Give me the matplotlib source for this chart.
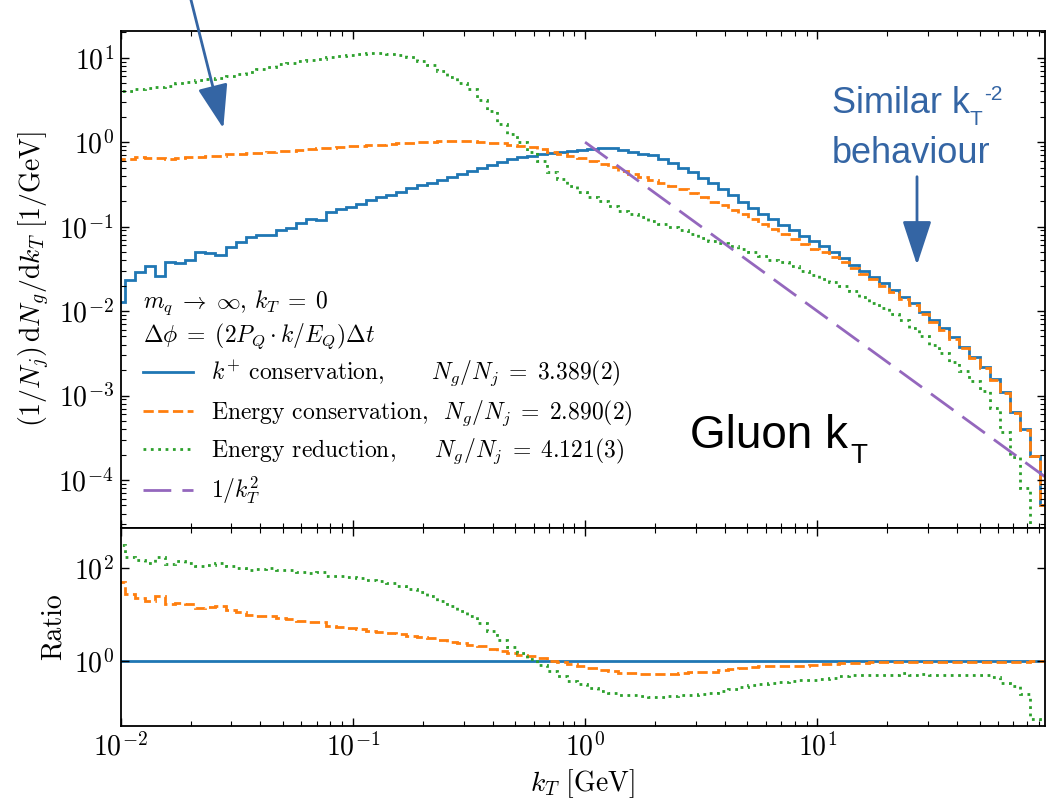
import numpy as np
import matplotlib
matplotlib.use('Agg')
import matplotlib.pyplot as plt
from matplotlib.ticker import LogLocator, NullLocator, FixedLocator
from matplotlib.lines import Line2D
from matplotlib.patches import FancyArrowPatch

plt.rcParams['font.family'] = 'cmr10'
plt.rcParams['mathtext.fontset'] = 'cm'
plt.rcParams['axes.formatter.use_mathtext'] = True
plt.rcParams['axes.linewidth'] = 1.3

# ---------------- data (log10 of bin contents) ----------
log_edge_start = -2.0248      # log10 of first bin edge [GeV]
log_bin_width = 0.0433        # bin width in decades
n_bins = 93

kplus_log10 = [
    -1.887, -1.630, -1.532, -1.461, -1.583, -1.425, -1.433, -1.394, -1.302, -1.314,
    -1.334, -1.243, -1.184, -1.125, -1.094, -1.094, -1.038, -1.011, -0.952, -0.912,
    -0.920, -0.825, -0.793, -0.762, -0.727, -0.683, -0.651, -0.624, -0.585, -0.538,
    -0.509, -0.478, -0.446, -0.407, -0.375, -0.336, -0.308, -0.269, -0.230, -0.201,
    -0.180, -0.160, -0.140, -0.125, -0.112, -0.100, -0.088, -0.078, -0.065, -0.075,
    -0.091, -0.111, -0.135, -0.158, -0.205, -0.250, -0.305, -0.358, -0.425, -0.482,
    -0.555, -0.620, -0.705, -0.781, -0.850, -0.915, -0.979, -1.042, -1.108, -1.167,
    -1.230, -1.300, -1.373, -1.453, -1.526, -1.591, -1.669, -1.749, -1.838, -1.910,
    -2.012, -2.104, -2.202, -2.305, -2.420, -2.538, -2.657, -2.806, -2.953, -3.190,
    -3.398, -3.714, -4.294]

econs_log10 = [
    -0.200, -0.195, -0.180, -0.185, -0.190, -0.195, -0.190, -0.175, -0.170, -0.165,
    -0.160, -0.140, -0.135, -0.130, -0.125, -0.120, -0.110, -0.105, -0.095, -0.085,
    -0.075, -0.065, -0.058, -0.050, -0.045, -0.035, -0.028, -0.020, -0.010, -0.005,
    0.000, 0.005, 0.008, 0.010, 0.010, 0.008, 0.005, -0.005, -0.015, -0.030,
    -0.045, -0.060, -0.085, -0.115, -0.140, -0.165, -0.190, -0.220, -0.255, -0.300,
    -0.340, -0.378, -0.412, -0.445, -0.478, -0.520, -0.560, -0.600, -0.655, -0.710,
    -0.750, -0.800, -0.845, -0.905, -0.965, -1.025, -1.085, -1.145, -1.205, -1.262,
    -1.305, -1.365, -1.420, -1.490, -1.560, -1.620, -1.700, -1.780, -1.860, -1.930,
    -2.030, -2.125, -2.225, -2.330, -2.440, -2.560, -2.680, -2.820, -2.975, -3.210,
    -3.410, -3.720, -4.300]

ered_log10 = [
    0.600, 0.610, 0.625, 0.640, 0.650, 0.665, 0.700, 0.715, 0.730, 0.745,
    0.765, 0.785, 0.810, 0.830, 0.870, 0.895, 0.920, 0.935, 0.960, 0.975,
    0.990, 1.005, 1.025, 1.035, 1.045, 1.050, 1.054, 1.045, 1.030, 1.005,
    0.960, 0.910, 0.840, 0.770, 0.700, 0.630, 0.500, 0.370, 0.220, 0.100,
    0.000, -0.120, -0.220, -0.350, -0.440, -0.520, -0.590, -0.650, -0.700, -0.755,
    -0.810, -0.845, -0.890, -0.930, -0.970, -1.010, -1.035, -1.090, -1.140, -1.170,
    -1.200, -1.230, -1.265, -1.305, -1.350, -1.390, -1.425, -1.470, -1.520, -1.570,
    -1.615, -1.660, -1.700, -1.760, -1.830, -1.900, -1.960, -2.040, -2.100, -2.200,
    -2.290, -2.400, -2.500, -2.600, -2.710, -2.830, -2.950, -3.150, -3.430, -3.730,
    -4.100, -4.950, -6.000]

labels = [r'$k^{+}$ conservation,      $N_g/N_j\;=\;3.389(2)$',
          r'Energy conservation,  $N_g/N_j\;=\;2.890(2)$',
          r'Energy reduction,     $N_g/N_j\;=\;4.121(3)$',
          r'$1/k_T^2$']
info_lines = [r'$m_q\;\rightarrow\;\infty$, $k_T\;=\;0$',
              r'$\Delta\phi\;=\;(2P_Q\cdot k/E_Q)\Delta t$']

# ---------------- derived arrays ----------------
kt_edges = 10 ** (log_edge_start + log_bin_width * np.arange(n_bins + 1))
kplus = 10 ** np.array(kplus_log10)
econs = 10 ** np.array(econs_log10)
ered = 10 ** np.array(ered_log10)

C_BLUE, C_OR, C_GR, C_PU = '#1f77b4', '#ff7f0e', '#2ca02c', '#9467bd'
ANN = '#3465a4'

W, H = 1059, 798
L, R = 120.7, 1045
T1, B1, B2 = 31, 527.6, 725.7
XMIN, XMAX = 0.01, 10 ** 1.981

fig = plt.figure(figsize=(W / 100, H / 100), dpi=100)
ax1 = fig.add_axes([L / W, 1 - B1 / H, (R - L) / W, (B1 - T1) / H])
ax2 = fig.add_axes([L / W, 1 - B2 / H, (R - L) / W, (B2 - B1) / H], sharex=ax1)

LW = 2.0
ax1.stairs(kplus, kt_edges, color=C_BLUE, lw=LW, baseline=None)
ax1.stairs(econs, kt_edges, color=C_OR, lw=LW, ls='--', baseline=None)
ax1.stairs(ered, kt_edges, color=C_GR, lw=LW, ls=':', baseline=None)
kt_line = np.array([1.0, XMAX])
ax1.plot(kt_line, 1 / kt_line ** 2, color=C_PU, lw=LW, dashes=(10, 4))

ax2.stairs(kplus / kplus, kt_edges, color=C_BLUE, lw=LW, baseline=None)
ax2.stairs(econs / kplus, kt_edges, color=C_OR, lw=LW, ls='--', baseline=None)
ax2.stairs(ered / kplus, kt_edges, color=C_GR, lw=LW, ls=':', baseline=None)

for ax in (ax1, ax2):
    ax.set_xscale('log')
    ax.set_yscale('log')
    ax.set_xlim(XMIN, XMAX)
    ax.xaxis.set_major_locator(LogLocator(base=10, numticks=20))
    ax.xaxis.set_minor_locator(LogLocator(base=10, subs=np.arange(2, 10), numticks=20))
    ax.tick_params(which='both', direction='in', top=True, right=True, labelsize=20)
    ax.tick_params(which='major', length=6, width=1.0, pad=5)
    ax.tick_params(which='minor', length=3.5, width=0.8)

ax1.set_ylim(2.73e-5, 20.7)
ax1.yaxis.set_major_locator(LogLocator(base=10, numticks=20))
ax1.yaxis.set_minor_locator(LogLocator(base=10, subs=np.arange(2, 10), numticks=20))
ax1.tick_params(labelbottom=False)

ax2.set_ylim(0.041, 724)
ax2.yaxis.set_major_locator(FixedLocator([1, 100]))
ax2.yaxis.set_minor_locator(NullLocator())

ax1.set_ylabel(r'$(1/N_j)\,\mathrm{d}N_g/\mathrm{d}k_T\ [1/\mathrm{GeV}]$', fontsize=20, labelpad=5)
ax2.set_ylabel('Ratio', fontsize=20, labelpad=5)
ax2.set_xlabel(r'$k_T\ [\mathrm{GeV}]$', fontsize=20, labelpad=4)
fig.align_ylabels([ax1, ax2])

# legend info lines
def ff(x, y):
    return (x / W, 1 - y / H)

fig.text(*ff(143, 308.3), info_lines[0], fontsize=17, va='baseline', ha='left')
fig.text(*ff(143, 341.7), info_lines[1], fontsize=17, va='baseline', ha='left')

handles = [Line2D([], [], color=C_BLUE, lw=LW),
           Line2D([], [], color=C_OR, lw=LW, ls='--'),
           Line2D([], [], color=C_GR, lw=LW, ls=':'),
           Line2D([], [], color=C_PU, lw=LW, dashes=(10, 4))]
fig.legend(handles, labels, loc='upper left', bbox_to_anchor=ff(143, 359),
           frameon=False, fontsize=17, handlelength=2.1, handletextpad=0.8,
           labelspacing=0.38, borderpad=0, borderaxespad=0)

# annotations
fig.text(*ff(832, 113.3), 'Similar k', fontsize=26, family='Liberation Sans', color=ANN, va='baseline')
fig.text(*ff(970, 125), 'T', fontsize=15, family='Liberation Sans', color=ANN, va='baseline')
fig.text(*ff(984, 100), '-2', fontsize=15, family='Liberation Sans', color=ANN, va='baseline')
fig.text(*ff(832, 163.3), 'behaviour', fontsize=26, family='Liberation Sans', color=ANN, va='baseline')
fig.text(*ff(690, 448), 'Gluon k', fontsize=33, family='Liberation Sans', color='black', va='baseline')
fig.text(*ff(850, 463), 'T', fontsize=20, family='Liberation Sans', color='black', va='baseline')

arr1 = FancyArrowPatch(ff(190.5, -2), ff(223.3, 128.3), transform=fig.transFigure,
                       arrowstyle='-|>,head_length=1.36,head_width=0.47',
                       mutation_scale=20, color=ANN, lw=2.0, shrinkA=0, shrinkB=0)
arr2 = FancyArrowPatch(ff(917, 176.7), ff(917, 265), transform=fig.transFigure,
                       arrowstyle='-|>,head_length=1.37,head_width=0.45',
                       mutation_scale=20, color=ANN, lw=2.0, shrinkA=0, shrinkB=0)
fig.add_artist(arr1)
fig.add_artist(arr2)

fig.savefig('out.png', dpi=100)
